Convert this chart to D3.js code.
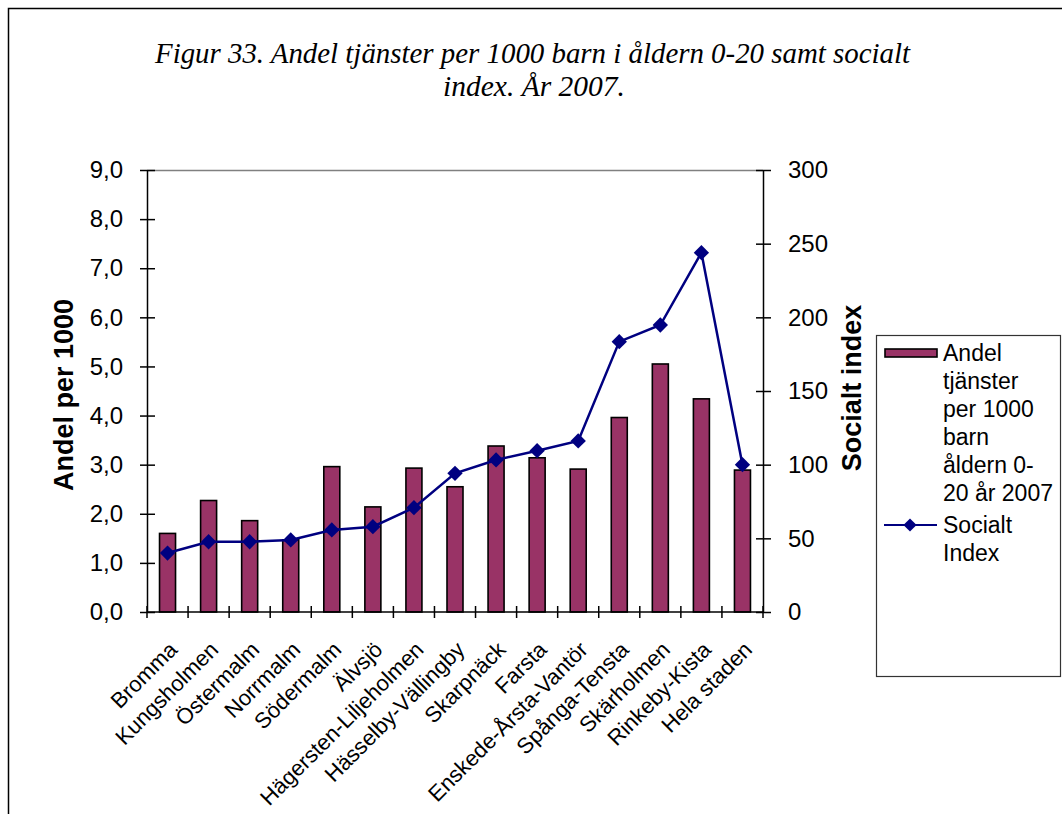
<!DOCTYPE html>
<html><head><meta charset="utf-8">
<script src="https://cdn.jsdelivr.net/npm/d3@7"></script>
<style>body{margin:0;background:#fff}svg{display:block}text{font-family:"Liberation Sans",Arial,sans-serif;fill:#000}</style>
</head><body>
<script>
const categories = ["Bromma","Kungsholmen","Östermalm","Norrmalm","Södermalm","Älvsjö","Hägersten-Liljeholmen","Hässelby-Vällingby","Skarpnäck","Farsta","Enskede-Årsta-Vantör","Spånga-Tensta","Skärholmen","Rinkeby-Kista","Hela staden"];
const andelPer1000 = [1.6, 2.27, 1.86, 1.47, 2.96, 2.14, 2.93, 2.55, 3.38, 3.14, 2.91, 3.96, 5.05, 4.34, 2.89];
const socialtIndex = [40, 47.7, 47.7, 48.9, 55.7, 57.9, 70.8, 94.1, 103.2, 109.5, 116.1, 183.5, 194.8, 243.9, 100];
const leftTicks = [0,1,2,3,4,5,6,7,8,9];
const rightTicks = [0,50,100,150,200,250,300];
const titleLines = ["Figur 33. Andel tjänster per 1000 barn i åldern 0-20 samt socialt", "index. År 2007."];
const legendBarLines = ["Andel","tjänster","per 1000","barn","åldern 0-","20 år 2007"];
const legendLineLines = ["Socialt","Index"];

const W = 1062, H = 814;
const svg = d3.select("body").append("svg").attr("width", W).attr("height", H);

// outer frame
svg.append("rect").attr("x",8.5).attr("y",8.5).attr("width",1200).attr("height",1000)
  .attr("fill","none").attr("stroke","#000").attr("stroke-width",1.5);

// title
svg.append("text").attr("x",532.5).attr("y",63).attr("text-anchor","middle")
  .style("font-family","'Liberation Serif','Times New Roman',serif").style("font-style","italic").style("font-size","29px")
  .attr("textLength",755).attr("lengthAdjust","spacingAndGlyphs").text(titleLines[0]);
svg.append("text").attr("x",534).attr("y",96).attr("text-anchor","middle")
  .style("font-family","'Liberation Serif','Times New Roman',serif").style("font-style","italic").style("font-size","29px")
  .attr("textLength",182).attr("lengthAdjust","spacingAndGlyphs").text(titleLines[1]);

const x0 = 147, x1 = 763, y0 = 612, y1 = 170;
const xb = d3.scaleBand().domain(categories).range([x0, x1]);
const yL = d3.scaleLinear().domain([0,9]).range([y0, y1]);
const yR = d3.scaleLinear().domain([0,300]).range([y0, y1]);

// plot area top border
svg.append("line").attr("x1",x0).attr("x2",x1).attr("y1",y1+0.5).attr("y2",y1+0.5).attr("stroke","#808080").attr("stroke-width",1.5);

// bars
svg.append("g").selectAll("rect").data(categories).join("rect")
  .attr("x", d => xb(d) + xb.bandwidth()/2 - 8)
  .attr("width", 16)
  .attr("y", (d,i) => yL(andelPer1000[i]))
  .attr("height", (d,i) => y0 - yL(andelPer1000[i]))
  .attr("fill","#993366").attr("stroke","#000").attr("stroke-width",1.6);

// left axis
const gL = svg.append("g").attr("transform",`translate(${x0},0)`)
  .call(d3.axisLeft(yL).tickValues(leftTicks).tickSize(0).tickPadding(24).tickFormat(d => d3.format(".1f")(d).replace(".",",")));
gL.select(".domain").attr("stroke","#000").attr("stroke-width",1.5);
gL.selectAll(".tick text").style("font-size","24px").style("font-family","'Liberation Sans',Arial,sans-serif").attr("fill","#000");
gL.selectAll(".tick").append("line").attr("x1",-7).attr("x2",8).attr("stroke","#000").attr("stroke-width",1.5);

// right axis
const gR = svg.append("g").attr("transform",`translate(${x1},0)`)
  .call(d3.axisRight(yR).tickValues(rightTicks).tickSize(0).tickPadding(25));
gR.select(".domain").attr("stroke","#000").attr("stroke-width",1.5);
gR.selectAll(".tick text").style("font-size","24px").style("font-family","'Liberation Sans',Arial,sans-serif").attr("fill","#000");
gR.selectAll(".tick").append("line").attr("x1",-7).attr("x2",8).attr("stroke","#000").attr("stroke-width",1.5);

// bottom axis
const gB = svg.append("g").attr("transform",`translate(0,${y0})`);
gB.append("line").attr("x1",x0).attr("x2",x1).attr("stroke","#000").attr("stroke-width",1.5);
const bounds = categories.map(c => xb(c)).concat([x1]);
gB.selectAll("line.t").data(bounds).join("line").attr("class","t")
  .attr("x1",d=>d).attr("x2",d=>d).attr("y1",-6).attr("y2",6).attr("stroke","#000").attr("stroke-width",1.5);
gB.selectAll("text").data(categories).join("text")
  .attr("transform", d => `translate(${xb(d)+xb.bandwidth()/2+11},${39}) rotate(-45)`)
  .attr("text-anchor","end").style("font-size","22px").text(d => d);

// line
const line = d3.line().x((d,i) => xb(categories[i]) + xb.bandwidth()/2).y(d => yR(d));
svg.append("path").datum(socialtIndex).attr("d", line).attr("fill","none").attr("stroke","#000080").attr("stroke-width",2.5);
const diamond = d3.symbol().type(d3.symbolDiamond2).size(150);
svg.append("g").selectAll("path").data(socialtIndex).join("path")
  .attr("d", diamond)
  .attr("transform",(d,i)=>`translate(${xb(categories[i]) + xb.bandwidth()/2},${yR(d)})`)
  .attr("fill","#000080");

// axis titles
svg.append("text").attr("transform","translate(73,395) rotate(-90)").attr("text-anchor","middle")
  .style("font-size","27px").style("font-weight","bold").text("Andel per 1000");
svg.append("text").attr("transform","translate(861,388) rotate(-90)").attr("text-anchor","middle")
  .style("font-size","27px").style("font-weight","bold").text("Socialt index");

// legend
const lg = svg.append("g");
lg.append("rect").attr("x",876.5).attr("y",335.5).attr("width",184).attr("height",341)
  .attr("fill","#fff").attr("stroke","#333").attr("stroke-width",1.2);
lg.append("rect").attr("x",885).attr("y",349).attr("width",52).attr("height",8)
  .attr("fill","#993366").attr("stroke","#000").attr("stroke-width",1.6);
lg.selectAll("text.b").data(legendBarLines).join("text").attr("class","b")
  .attr("x",943).attr("y",(d,i)=>361 + i*28).style("font-size","23px").text(d=>d);
lg.append("line").attr("x1",884).attr("x2",937).attr("y1",525).attr("y2",525).attr("stroke","#000080").attr("stroke-width",2);
lg.append("path").attr("d", d3.symbol().type(d3.symbolDiamond2).size(110)).attr("transform","translate(910,525)").attr("fill","#000080");
lg.selectAll("text.l").data(legendLineLines).join("text").attr("class","l")
  .attr("x",943).attr("y",(d,i)=>533 + i*28).style("font-size","23px").text(d=>d);
</script>
</body></html>
